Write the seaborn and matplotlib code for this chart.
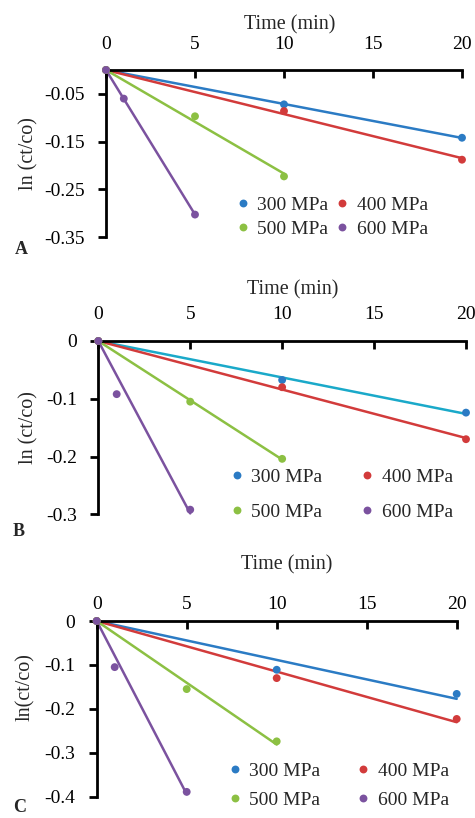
import numpy as np
import pandas as pd
import matplotlib
matplotlib.use("Agg")
import matplotlib.pyplot as plt
import seaborn as sns

sns.set_style("white")
plt.rcParams["font.family"] = ["Liberation Serif", "DejaVu Serif"]

# ---------------- data ----------------
pressures = ["300 MPa", "400 MPa", "500 MPa", "600 MPa"]
time_300 = [0, 10, 20]
time_400 = [0, 10, 20]
time_500 = [0, 5, 10]
time_600 = [0, 1, 5]

A_300 = [0, -0.072, -0.142]
A_400 = [0, -0.086, -0.188]
A_500 = [0, -0.097, -0.223]
A_600 = [0, -0.060, -0.303]

B_300 = [0, -0.0675, -0.124]
B_400 = [0, -0.080, -0.170]
B_500 = [0, -0.105, -0.204]
B_600 = [0, -0.092, -0.292]

C_300 = [0, -0.111, -0.166]
C_400 = [0, -0.130, -0.223]
C_500 = [0, -0.155, -0.274]
C_600 = [0, -0.105, -0.389]

x_ticks = [0, 5, 10, 15, 20]
A_yticks = [-0.35, -0.25, -0.15, -0.05]
A_yticklabels = ["-0.35", "-0.25", "-0.15", "-0.05"]
B_yticks = [-0.3, -0.2, -0.1, 0]
B_yticklabels = ["-0.3", "-0.2", "-0.1", "0"]
C_yticks = [-0.4, -0.3, -0.2, -0.1, 0]
C_yticklabels = ["-0.4", "-0.3", "-0.2", "-0.1", "0"]

xlabel = "Time (min)"
ylabels = ["ln (ct/co)", "ln (ct/co)", "ln(ct/co)"]
letters = ["A", "B", "C"]

# ---------------- styles ----------------
marker_colors = ["#2B7BC4", "#D23B3B", "#8CC043", "#7B529F"]
line_colors_A = ["#2B7BC4", "#D23B3B", "#8CC043", "#7B529F"]
line_colors_B = ["#1AA9C9", "#D23B3B", "#8CC043", "#7B529F"]
line_colors_C = ["#2B7BC4", "#D23B3B", "#8CC043", "#7B529F"]

W, H = 475, 818
fig = plt.figure(figsize=(W / 100, H / 100), dpi=100)


def px_axes(left, top, right, bottom):
    return fig.add_axes([left / W, 1 - bottom / H, (right - left) / W, (bottom - top) / H])


panels = [
    dict(series=[A_300, A_400, A_500, A_600], lc=line_colors_A, box=(106, 70, 462, 237),
         ylim=(-0.35, 0), yt=A_yticks, ytl=A_yticklabels, xpad=12.5,
         xlab=(0.517, 1.269), ylab=(-0.216, 0.5),
         leg=(236, 196), colsp=0.36, labsp=0.33, letter=(15, 250)),
    dict(series=[B_300, B_400, B_500, B_600], lc=line_colors_B, box=(98.3, 341, 466, 514.3),
         ylim=(-0.3, 0), yt=B_yticks, ytl=B_yticklabels, xpad=13,
         xlab=(0.53, 1.295), ylab=(-0.188, 0.5),
         leg=(230, 468), colsp=1.95, labsp=0.9, letter=(13, 531)),
    dict(series=[C_300, C_400, C_500, C_600], lc=line_colors_C, box=(96.7, 621, 456.7, 796.7),
         ylim=(-0.4, 0), yt=C_yticks, ytl=C_yticklabels, xpad=6,
         xlab=(0.529, 1.318), ylab=(-0.199, 0.625),
         leg=(228, 762), colsp=1.85, labsp=0.6, letter=(13, 807)),
]

times = [time_300, time_400, time_500, time_600]

for i, p in enumerate(panels):
    ax = px_axes(*p["box"])
    rows = []
    for name, t, v in zip(pressures, times, p["series"]):
        for tt, vv in zip(t, v):
            rows.append(dict(time=tt, value=vv, pressure=name))
    df = pd.DataFrame(rows)

    # trend lines through the origin (least squares)
    for name, t, v, c in zip(pressures, times, p["series"], p["lc"]):
        t_arr = np.array(t, dtype=float)
        v_arr = np.array(v, dtype=float)
        slope = (t_arr * v_arr).sum() / (t_arr ** 2).sum()
        xs = np.array([0.0, t_arr.max()])
        sns.lineplot(x=xs, y=slope * xs, ax=ax, color=c, linewidth=1.8,
                     legend=False, zorder=2, clip_on=False)

    sns.scatterplot(data=df, x="time", y="value", hue="pressure", hue_order=pressures,
                    palette=marker_colors, s=32, edgecolor="none", ax=ax,
                    zorder=3, clip_on=False)

    ax.set_xlim(0, 20)
    ax.set_ylim(*p["ylim"])
    ax.set_xticks(x_ticks)
    ax.set_xticklabels([str(x) for x in x_ticks])
    ax.set_yticks(p["yt"])
    ax.set_yticklabels(p["ytl"])

    ax.xaxis.tick_top()
    ax.xaxis.set_label_position("top")
    ax.set_xlabel(xlabel, fontsize=14.5)
    ax.set_ylabel(ylabels[i], fontsize=14.5)
    ax.xaxis.set_label_coords(*p["xlab"])
    ax.xaxis.label.set_va("center")
    ax.yaxis.set_label_coords(*p["ylab"])
    ax.yaxis.label.set_va("center")

    for s in ["bottom", "right"]:
        ax.spines[s].set_visible(False)
    for s in ["top", "left"]:
        ax.spines[s].set_visible(True)
        ax.spines[s].set_color("black")
        ax.spines[s].set_linewidth(2)

    ax.tick_params(axis="x", direction="in", length=6, width=2, labelsize=14,
                   pad=p["xpad"], top=True, bottom=False, colors="black")
    ax.tick_params(axis="y", direction="out", length=5.5, width=2, labelsize=14,
                   pad=10, left=True, colors="black")
    ax.set_facecolor("none")
    ax.grid(False)

    handles, labels = ax.get_legend_handles_labels()
    order = [0, 2, 1, 3]  # row-wise: 300 400 / 500 600
    handles = [handles[k] for k in order]
    labels = [labels[k] for k in order]
    lx, ly = p["leg"]
    ax.legend(handles, labels, ncol=2, loc="upper left",
              bbox_to_anchor=(lx / W, 1 - ly / H), bbox_transform=fig.transFigure,
              frameon=False, fontsize=14, handlelength=0.7, handletextpad=0.4,
              columnspacing=p["colsp"], labelspacing=p["labsp"],
              borderpad=0, borderaxespad=0)

    lxp, lyp = p["letter"]
    fig.text(lxp / W, 1 - lyp / H, letters[i], fontsize=13, fontweight="bold",
             ha="left", va="center")

fig.savefig("out.png", dpi=100)
